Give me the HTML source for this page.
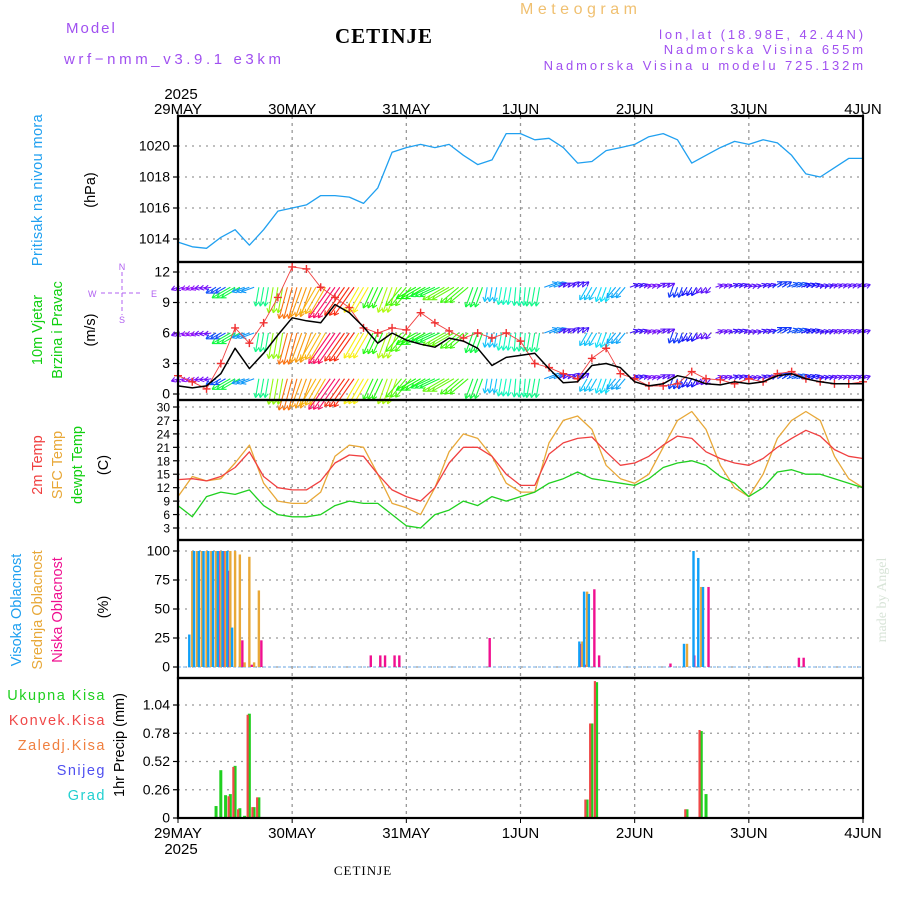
<!DOCTYPE html>
<html><head><meta charset="utf-8"><style>
html,body{margin:0;padding:0;background:#fff;}
svg text{font-family:"Liberation Sans",sans-serif;}
</style></head><body>
<svg id="chart" width="900" height="900" viewBox="0 0 900 900" xmlns="http://www.w3.org/2000/svg">
<rect x="0" y="0" width="900" height="900" fill="#fff"/>
<g id="hdr">
<text x="66" y="33" fill="#a050f0" font-size="15" letter-spacing="2">Model</text>
<text x="64" y="64" fill="#a050f0" font-size="15" letter-spacing="3.6">wrf−nmm_v3.9.1  e3km</text>
<text x="384" y="43" fill="#000" font-size="21" font-weight="bold" text-anchor="middle" style="font-family:'Liberation Serif',serif" letter-spacing="1">CETINJE</text>
<text x="520" y="14" fill="#f0c070" font-size="16" letter-spacing="4.5">Meteogram</text>
<text x="866" y="39" fill="#a050f0" font-size="13" text-anchor="end" letter-spacing="2.9">lon,lat (18.98E, 42.44N)</text>
<text x="866" y="54" fill="#a050f0" font-size="13" text-anchor="end" letter-spacing="2.9">Nadmorska Visina 655m</text>
<text x="866" y="70" fill="#a050f0" font-size="13" text-anchor="end" letter-spacing="2.9">Nadmorska Visina u modelu 725.132m</text>
<text x="181" y="99" fill="#000" font-size="15" text-anchor="middle">2025</text>
<text x="181" y="854" fill="#000" font-size="15" text-anchor="middle">2025</text>
<text x="363" y="875" fill="#000" font-size="13" text-anchor="middle" style="font-family:'Liberation Serif',serif" letter-spacing="1">CETINJE</text>
<text transform="translate(886,600) rotate(-90)" fill="#d8e4d8" font-size="14" text-anchor="middle" style="font-family:'Liberation Serif',serif">made by Angel</text>
</g>
<g id="leftlabels" font-size="14.5">
<text transform="translate(42,190) rotate(-90)" fill="#20a0f0" text-anchor="middle" letter-spacing="0.4">Pritisak na nivou mora</text>
<text transform="translate(95,190) rotate(-90)" fill="#000" text-anchor="middle">(hPa)</text>
<text transform="translate(42,330) rotate(-90)" fill="#10d010" text-anchor="middle">10m Vjetar</text>
<text transform="translate(62,330) rotate(-90)" fill="#10d010" text-anchor="middle">Brzina i Pravac</text>
<text transform="translate(95,330) rotate(-90)" fill="#000" text-anchor="middle">(m/s)</text>
<g fill="#b060f0" font-size="9">
<text x="122" y="270" text-anchor="middle">N</text><text x="122" y="323" text-anchor="middle">S</text>
<text x="88" y="297">W</text><text x="151" y="297">E</text>
<line x1="101" y1="293" x2="143" y2="293" stroke="#b060f0" stroke-dasharray="4,3"/>
<line x1="122" y1="272" x2="122" y2="315" stroke="#b060f0" stroke-dasharray="4,3"/>
</g>
<text transform="translate(42,465) rotate(-90)" fill="#f04040" text-anchor="middle">2m Temp</text>
<text transform="translate(62,465) rotate(-90)" fill="#e8a838" text-anchor="middle">SFC Temp</text>
<text transform="translate(82,465) rotate(-90)" fill="#10d010" text-anchor="middle">dewpt Temp</text>
<text transform="translate(108,465) rotate(-90)" fill="#000" text-anchor="middle">(C)</text>
<text transform="translate(21,610) rotate(-90)" fill="#20a0f0" text-anchor="middle">Visoka Oblacnost</text>
<text transform="translate(42,610) rotate(-90)" fill="#e8a838" text-anchor="middle">Srednja Oblacnost</text>
<text transform="translate(62,610) rotate(-90)" fill="#f01090" text-anchor="middle">Niska Oblacnost</text>
<text transform="translate(108,607) rotate(-90)" fill="#000" text-anchor="middle">(%)</text>
<text x="106" y="700" fill="#20d020" text-anchor="end" letter-spacing="1.5">Ukupna  Kisa</text>
<text x="106" y="725" fill="#f04848" text-anchor="end" letter-spacing="1.5">Konvek.Kisa</text>
<text x="106" y="750" fill="#f08040" text-anchor="end" letter-spacing="1.5">Zaledj.Kisa</text>
<text x="106" y="775" fill="#5050f0" text-anchor="end" letter-spacing="1.5">Snijeg</text>
<text x="106" y="800" fill="#20d0d0" text-anchor="end" letter-spacing="1.5">Grad</text>
<text transform="translate(124,745) rotate(-90)" fill="#000" text-anchor="middle">1hr Precip (mm)</text>
</g>
<g id="plots"></g>
</svg>
<script>
const dayLabels = ["29MAY","30MAY","31MAY","1JUN","2JUN","3JUN","4JUN"];
const hours3 = [0,3,6,9,12,15,18,21,24,27,30,33,36,39,42,45,48,51,54,57,60,63,66,69,72,75,78,81,84,87,90,93,96,99,102,105,108,111,114,117,120,123,126,129,132,135,138,141,144];
const pressure = [1013.8,1013.5,1013.4,1014.1,1014.6,1013.6,1014.6,1015.8,1016.0,1016.2,1016.8,1016.8,1016.7,1016.3,1017.3,1019.6,1019.9,1020.1,1019.9,1020.1,1019.4,1018.8,1019.1,1020.8,1020.8,1020.4,1020.5,1019.9,1018.9,1019.0,1019.7,1019.9,1020.1,1020.6,1020.8,1020.4,1018.9,1019.4,1019.9,1020.3,1020.1,1020.4,1020.2,1019.4,1018.2,1018.0,1018.6,1019.2,1019.2];
const windSpeed = [0.8,0.6,0.8,2.0,4.5,2.5,4.0,5.8,7.5,7.2,7.0,8.8,8.0,6.6,5.0,6.0,5.3,4.9,4.6,5.5,5.2,4.5,2.8,3.6,3.8,4.0,2.5,1.1,1.2,2.8,3.0,2.6,1.2,0.8,1.0,1.8,1.5,1.0,0.9,1.2,1.0,1.2,1.8,2.0,1.5,1.2,1.0,1.0,1.0];
const windGust = [1.8,1.2,0.5,3.0,6.5,5.0,7.0,9.5,12.5,12.3,10.5,9.5,8.5,6.5,6.0,6.5,6.3,8.0,7.0,6.2,5.5,6.0,5.5,6.0,5.2,3.0,2.6,2.0,1.5,3.5,4.5,2.0,1.5,0.8,0.8,1.0,2.2,1.5,1.4,1.0,1.5,1.2,2.0,2.2,1.5,1.2,1.0,1.0,1.2];
const windDir = [70,70,80,60,60,70,10,10,15,20,30,35,35,30,25,20,40,60,65,60,50,20,10,10,5,10,250,240,230,30,20,40,250,250,240,20,30,40,250,250,255,250,240,250,250,255,250,250,250];
const temp2m = [13.8,14.0,13.5,14.5,16.5,20.0,14.5,12.0,11.5,11.5,13.5,17.5,19.3,19.0,15.0,11.5,10.0,9.0,12.0,17.5,21.0,21.0,19.0,15.0,12.5,12.5,19.5,22.0,23.0,23.3,20.0,17.0,17.5,19.0,21.5,23.5,23.0,20.0,18.5,17.5,17.0,18.5,21.0,23.0,24.8,23.5,20.5,19.0,18.5];
const tempSfc = [10,14.5,13.5,14,17.5,21.5,13,9,8.5,8.5,11,19,21.5,21,15,8.5,7.5,6,12,20,24,23,19,13,11,11,22,27,28,25,17,14,13,15,21,27,29,25,17,12,10,15,23,27,29,27,19,14,12];
const dewpt = [8,5.5,10,11,10.5,11.5,8,6,5.5,5.5,6,8,9,8.5,8.5,6,3.5,3,6,7,9,8,10,9,10,11,13,14,15.5,14,13.5,13,12.5,14,16.5,17.5,18,17,14.5,13,10,12,15.5,16,15,15,14,13,12];
const cloudHours = [3,4,5,6,7,8,9,10,11,12,13,14,15,16,17,40,42,43,45,46,65,84,85,86,87,88,103,107,108,109,110,111,130,131];
const cloudHigh = [28,100,100,100,100,100,100,100,100,34,0,0,0,0,0,0,0,0,0,0,0,0,22,65,63,0,0,20,0,100,94,69,0,0];
const cloudMid  = [100,100,100,100,100,100,100,100,100,100,97,4,95,4,66,0,0,0,0,0,0,0,22,65,0,0,0,20,0,0,69,0,0,0];
const cloudLow  = [0,0,0,0,0,100,100,83,0,0,23,0,2,0,23,10,10,10,10,10,25,20,2,0,67,10,3,0,10,0,0,69,8,8];
const precipHours = [8,9,10,11,12,13,14,15,16,17,86,87,88,107,110,111];
const precipTotal = [0.11,0.44,0.21,0.22,0.48,0.09,0.02,0.96,0.10,0.19,0.17,0.87,1.25,0.08,0.80,0.22];
const precipConv  = [0,0,0,0.20,0.47,0.08,0,0.95,0.10,0.19,0.17,0.87,1.26,0.08,0.81,0];
const presTicks = [1014,1016,1018,1020];
const windTicks = [0,3,6,9,12];
const tempTicks = [3,6,9,12,15,18,21,24,27,30];
const cloudTicks = [0,25,50,75,100];
const precipTicks = [0,0.26,0.52,0.78,1.04];

const NS="http://www.w3.org/2000/svg";
const plots=document.getElementById('plots');
const X0=178,X1=863;
const xH=h=>X0+(X1-X0)*h/144;
function el(tag,attrs,parent){const e=document.createElementNS(NS,tag);for(const k in attrs)e.setAttribute(k,attrs[k]);(parent||plots).appendChild(e);return e;}
function lin(d0,d1,r0,r1){return v=>r0+(v-d0)*(r1-r0)/(d1-d0);}
const panels=[
 {name:'pressure',top:116,bot:262,y:lin(1014,1020,239,146),ticks:presTicks,fmt:v=>String(v)},
 {name:'wind',top:262,bot:400,y:lin(0,12,394,272),ticks:windTicks,fmt:v=>String(v)},
 {name:'temperature',top:400,bot:540,y:lin(3,30,528,407),ticks:tempTicks,fmt:v=>String(v),fs:12},
 {name:'cloud',top:540,bot:678,y:lin(0,100,667,551),ticks:cloudTicks,fmt:v=>String(v)},
 {name:'precip',top:678,bot:818,y:lin(0,1.04,818,705),ticks:precipTicks,fmt:v=>v===0?'0':v.toFixed(2)}
];
panels.forEach(p=>{
 const g=el('g',{});
 
 
 p.g=g;
 for(let d=1;d<6;d++){const l=el('line',{x1:xH(d*24),x2:xH(d*24),y1:p.top,y2:p.bot,stroke:'#999','stroke-width':1.3,'stroke-dasharray':'3,4'},g);
  }
 p.ticks.forEach(t=>{const yy=p.y(t);
  if(yy>p.top+2&&yy<p.bot-2){const l=el('line',{x1:X0,x2:X1,y1:yy,y2:yy,stroke:'#999','stroke-width':1.3,'stroke-dasharray':'2,5'},g);
   }
  el('line',{x1:X0-5,x2:X0,y1:yy,y2:yy,stroke:'#000','stroke-width':1.2},g);
  const tx=el('text',{x:X0-8,y:yy+4.5,'text-anchor':'end','font-size':p.fs||14,fill:'#000'},g);
  tx.textContent=p.fmt(t);
  
 });
});
function poly(g,xs,ys,color,w,name){const pts=xs.map((x,i)=>x.toFixed(1)+','+ys[i].toFixed(1)).join(' ');
 const pl=el('polyline',{points:pts,fill:'none',stroke:color,'stroke-width':w,'stroke-linejoin':'round'},g);
 return pl;}
// pressure
const P=panels[0];
poly(P.g,hours3.map(xH),pressure.map(P.y),'#20a0f0',1.3,'pressure-line');
// wind arrows
const W=panels[1];
const rows=[10.5,6,1.5];
for(let h=0;h<=144;h++){
 const i=Math.min(hours3.length-1,Math.round(h/3));
 const s=windSpeed[i],dir=windDir[i];
 const hue=((295-s*36)%360+360)%360;const col='hsl('+hue+',95%,52%)';
 const L=4+3.8*s,b=(dir+180)*Math.PI/180;
 const dx=Math.sin(b)*L,dy=-Math.cos(b)*L;
 rows.forEach(r=>{
  const x0=xH(h),y0=W.y(r),x1=x0+dx,y1=y0+dy;
  const ag=el('g',{},W.g);
  
  el('line',{x1:x0,y1:y0,x2:x1,y2:y1,stroke:col,'stroke-width':1.1},ag);
  const a=Math.atan2(dy,dx);
  [2.6,-2.6].forEach(o=>el('line',{x1:x1,y1:y1,x2:x1-5*Math.cos(a+o*0.2),y2:y1-5*Math.sin(a+o*0.2),stroke:col,'stroke-width':1.1},ag));
 });
}
poly(W.g,hours3.map(xH),windGust.map(W.y),'#f04040',0.9,'wind-gust-line');
hours3.forEach((h,i)=>{const x=xH(h),y=W.y(windGust[i]);
 const c=el('path',{d:`M${x-4},${y}H${x+4}M${x},${y-4}V${y+4}`,stroke:'#f03030','stroke-width':1.4},W.g);
 });
poly(W.g,hours3.map(xH),windSpeed.map(W.y),'#000',1.5,'wind-speed-line');
// temperature
const T=panels[2];
poly(T.g,hours3.map(xH),tempSfc.map(T.y),'#e8a838',1.3,'sfc-temp-line');
poly(T.g,hours3.map(xH),temp2m.map(T.y),'#f04040',1.3,'temp-2m-line');
poly(T.g,hours3.map(xH),dewpt.map(T.y),'#20d020',1.3,'dewpt-line');
// clouds
const C=panels[3];
const cb=el('line',{x1:X0,x2:X1,y1:C.y(0),y2:C.y(0),stroke:'#a0c8f0','stroke-width':1.5,'stroke-dasharray':'3,2'},C.g);

cloudHours.forEach((h,i)=>{const x=xH(h);
 [[cloudHigh[i],'#10a0f8',-3,'cloud-high-bar'],[cloudMid[i],'#e8a838',0,'cloud-mid-bar'],[cloudLow[i],'#f01090',2.5,'cloud-low-bar']].forEach(([v,c,o,n])=>{
  if(v<=0)return;const y=C.y(v);
  const r=el('rect',{x:x+o-1.2,y:y,width:2.4,height:C.y(0)-y,fill:c},C.g);
  });
});
// precip
const R=panels[4];
precipHours.forEach((h,i)=>{const x=xH(h);
 const y=R.y(precipTotal[i]);
 const r=el('rect',{x:x-1.5,y:y,width:3,height:R.y(0)-y,fill:'#20d020'},R.g);
 
 if(precipConv[i]>0){const y2=R.y(precipConv[i]);
  const r2=el('rect',{x:x-2.8,y:y2,width:2.2,height:R.y(0)-y2,fill:'#f04848'},R.g);
  }
});
// panel frames
panels.forEach(p=>{const f=el('rect',{x:X0,y:p.top,width:X1-X0,height:p.bot-p.top,fill:'none',stroke:'#000','stroke-width':2.2});
 });
// day axis labels
dayLabels.forEach((d,i)=>{const x=xH(i*24);
 el('line',{x1:x,x2:x,y1:111,y2:116,stroke:'#000'});
 el('line',{x1:x,x2:x,y1:818,y2:823,stroke:'#000'});
 const t1=el('text',{x:x,y:114,'text-anchor':'middle','font-size':15,fill:'#000'});t1.textContent=d;
 
 const t2=el('text',{x:x,y:838,'text-anchor':'middle','font-size':15,fill:'#000'});t2.textContent=d;
 
});
</script>
</body></html>
